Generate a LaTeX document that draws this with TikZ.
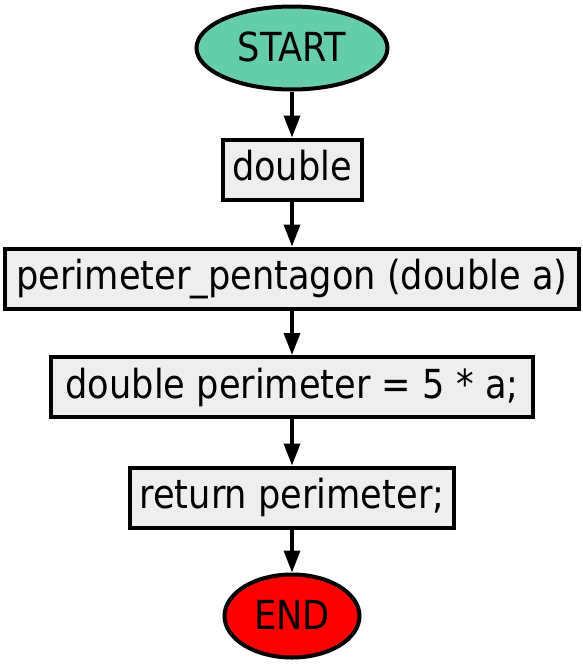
\documentclass[tikz,border=0pt]{standalone}
\usepackage{fontspec}
\setmainfont[FakeStretch=0.88]{DejaVu Sans}
\usetikzlibrary{shapes.geometric,arrows.meta}
\definecolor{boxfill}{HTML}{EEEEEE}
\definecolor{startfill}{HTML}{66CDAA}
\definecolor{endfill}{HTML}{FF0000}
\begin{document}
\begin{tikzpicture}[x=1pt,y=-1pt,
  every node/.style={font=\fontsize{40}{48}\selectfont, inner sep=0pt, line width=4pt},
  procbox/.style={draw=black, fill=boxfill, rectangle, minimum height=60pt, text height=29pt, text depth=7pt},
  termnode/.style={draw=black, ellipse, minimum height=83pt, text height=29pt, text depth=3pt},
  flow/.style={line width=3.5pt, -{Triangle[length=22pt,width=16pt]}}]
\useasboundingbox (0,0) rectangle (583,665);
\node[termnode, fill=startfill, minimum width=191pt] (start) at (292,48) {START};
\node[procbox, minimum width=139pt] (dbl) at (292,169.5) {double};
\node[procbox, minimum width=574pt] (func) at (292,278.5) {perimeter\_pentagon (double a)};
\node[procbox, minimum width=482pt] (calc) at (292,387) {double perimeter = 5 * a;};
\node[procbox, minimum width=324pt] (ret) at (292,497.5) {return perimeter;};
\node[termnode, fill=endfill, minimum width=135pt] (end) at (292,616) {END};
\draw[flow] (start) -- (dbl);
\draw[flow] (dbl) -- (func);
\draw[flow] (func) -- (calc);
\draw[flow] (calc) -- (ret);
\draw[flow] (ret) -- (end);
\end{tikzpicture}
\end{document}
